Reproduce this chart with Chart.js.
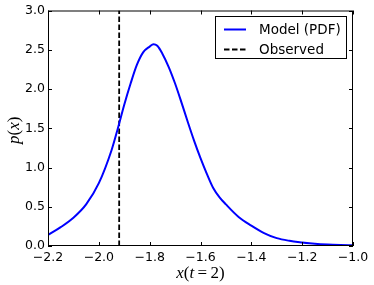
<!DOCTYPE html>
<html>
<head>
<meta charset="utf-8">
<script src="https://cdn.jsdelivr.net/npm/chart.js@4.4.1/dist/chart.umd.min.js"></script>
<style>
  html, body { margin: 0; padding: 0; background: #fff; }
  #wrap { width: 374px; height: 285px; }
</style>
</head>
<body>
<div id="wrap"><canvas id="pdf-chart"></canvas></div>
<script>
// values
const xValues = [-2.2, -2.15, -2.1, -2.05, -2.0, -1.95, -1.925, -1.9, -1.875, -1.85, -1.825, -1.8,
  -1.785, -1.77, -1.75, -1.725, -1.7, -1.675, -1.65, -1.625, -1.6, -1.575, -1.55, -1.525, -1.5,
  -1.45, -1.4, -1.35, -1.3, -1.25, -1.2, -1.15, -1.1, -1.05, -1.0];
const pdfValues = [0.14, 0.24, 0.36, 0.53, 0.80, 1.22, 1.50, 1.80, 2.07, 2.31, 2.47, 2.54,
  2.57, 2.55, 2.45, 2.28, 2.07, 1.83, 1.58, 1.34, 1.12, 0.92, 0.74, 0.62, 0.53,
  0.37, 0.26, 0.165, 0.10, 0.066, 0.045, 0.028, 0.018, 0.012, 0.008];
const observedX = -1.92;
const xTicks = [-2.2, -2.0, -1.8, -1.6, -1.4, -1.2, -1.0];
const yTicks = [0, 0.5, 1.0, 1.5, 2.0, 2.5, 3.0];
const seriesNames = ['Model (PDF)', 'Observed'];
// axis labels as [text, italic] runs, like math text
const xLabel = [['x', true], ['(', false], ['t', true], ['\u2009=\u20092)', false]];
const yLabel = [['p', true], ['(', false], ['x', true], [')', false]];

const fmt = v => (v < 0 ? '\u2212' : '') + Math.abs(v).toFixed(1);

function drawRuns(ctx, runs, cx, cy, rot) {
  const font = it => (it ? 'italic ' : '') + '17px "Liberation Serif"';
  let w = 0;
  runs.forEach(r => { ctx.font = font(r[1]); w += ctx.measureText(r[0]).width; });
  ctx.save();
  ctx.translate(cx, cy);
  ctx.rotate(rot);
  ctx.textBaseline = 'middle';
  ctx.textAlign = 'left';
  ctx.fillStyle = '#000';
  let x = -w / 2;
  runs.forEach(r => {
    ctx.font = font(r[1]);
    ctx.fillText(r[0], x, 0);
    x += ctx.measureText(r[0]).width;
  });
  ctx.restore();
}

// matplotlib-like frame, inward ticks, axis labels and boxed legend
const framePlugin = {
  id: 'frame',
  afterDraw(chart) {
    const { ctx, chartArea: a, scales } = chart;
    ctx.save();
    ctx.strokeStyle = '#000';
    ctx.lineWidth = 1;
    ctx.beginPath();
    xTicks.forEach(t => {
      const x = Math.round(scales.x.getPixelForValue(t)) + 0.5;
      ctx.moveTo(x, a.bottom); ctx.lineTo(x, a.bottom - 4);
      ctx.moveTo(x, a.top); ctx.lineTo(x, a.top + 4);
    });
    yTicks.forEach(t => {
      const y = Math.round(scales.y.getPixelForValue(t)) + 0.5;
      ctx.moveTo(a.left, y); ctx.lineTo(a.left + 4, y);
      ctx.moveTo(a.right, y); ctx.lineTo(a.right - 4, y);
    });
    ctx.stroke();
    ctx.strokeRect(a.left + 0.5, a.top + 0.5, a.right - a.left - 1, a.bottom - a.top - 1);

    drawRuns(ctx, xLabel, (a.left + a.right) / 2, 274, 0);
    drawRuns(ctx, yLabel, 15, (a.top + a.bottom) / 2 + 2, -Math.PI / 2);

    // legend
    const bx = 215.5, by = 16.5, bw = 131, bh = 42;
    ctx.fillStyle = '#fff';
    ctx.fillRect(bx, by, bw, bh);
    ctx.strokeRect(bx, by, bw, bh);
    ctx.font = '13.5px "DejaVu Sans"';
    ctx.textBaseline = 'middle';
    ctx.textAlign = 'left';
    chart.data.datasets.forEach((ds, i) => {
      const ly = 29.5 + i * 20;
      ctx.beginPath();
      ctx.strokeStyle = ds.borderColor;
      ctx.lineWidth = ds.borderWidth;
      ctx.setLineDash(ds.borderDash || []);
      ctx.moveTo(224, ly); ctx.lineTo(246, ly);
      ctx.stroke();
      ctx.setLineDash([]);
      ctx.fillStyle = '#000';
      ctx.fillText(ds.label, 259, ly + 1);
    });
    ctx.restore();
  }
};

new Chart(document.getElementById('pdf-chart'), {
  type: 'scatter',
  data: {
    datasets: [
      {
        label: seriesNames[0],
        data: xValues.map((x, i) => ({ x: x, y: pdfValues[i] })),
        showLine: true,
        borderColor: '#0000ff',
        borderWidth: 2,
        pointRadius: 0,
        cubicInterpolationMode: 'monotone'
      },
      {
        label: seriesNames[1],
        data: [{ x: observedX, y: 0 }, { x: observedX, y: 3 }],
        showLine: true,
        borderColor: '#000',
        borderWidth: 1.8,
        borderDash: [5.5, 2.5],
        pointRadius: 0
      }
    ]
  },
  options: {
    responsive: true,
    maintainAspectRatio: false,
    animation: false,
    layout: { padding: { left: 0, right: 21, top: 10, bottom: 0 } },
    plugins: { legend: { display: false }, tooltip: { enabled: false } },
    scales: {
      x: {
        type: 'linear',
        min: -2.2,
        max: -1.0,
        afterBuildTicks: s => { s.ticks = xTicks.map(v => ({ value: v })); },
        afterFit: s => { s.height = 39; },
        grid: { display: false, drawTicks: false },
        border: { display: false },
        ticks: { padding: 4, maxRotation: 0, autoSkip: false, color: '#000',
          font: { family: 'DejaVu Sans', size: 12.5 }, callback: v => fmt(v) }
      },
      y: {
        min: 0,
        max: 3,
        afterBuildTicks: s => { s.ticks = yTicks.map(v => ({ value: v })); },
        afterFit: s => { s.width = 48; },
        grid: { display: false, drawTicks: false },
        border: { display: false },
        ticks: { padding: 3, autoSkip: false, color: '#000',
          font: { family: 'DejaVu Sans', size: 12.5 }, callback: v => fmt(v) }
      }
    }
  },
  plugins: [framePlugin]
});
</script>
</body>
</html>
